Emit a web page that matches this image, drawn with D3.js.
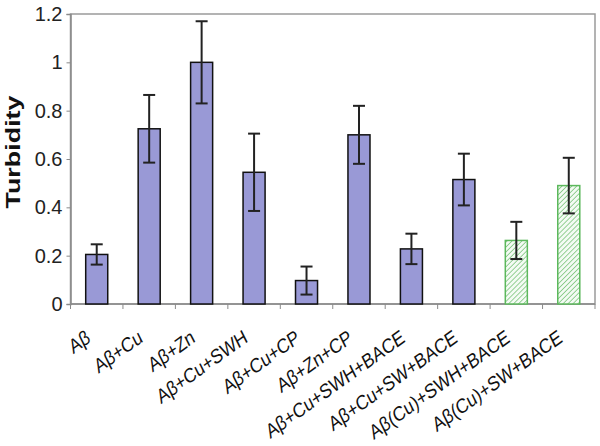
<!DOCTYPE html>
<html>
<head>
<meta charset="utf-8">
<script src="https://cdn.jsdelivr.net/npm/d3@7"></script>
<style>
  body { margin: 0; background: #fff; }
  svg { display: block; font-family: "Liberation Sans", Arial, sans-serif; }
</style>
</head>
<body>
<div id="chart"></div>
<script>
// Data
const categories = ["Aβ", "Aβ+Cu", "Aβ+Zn", "Aβ+Cu+SWH", "Aβ+Cu+CP", "Aβ+Zn+CP",
  "Aβ+Cu+SWH+BACE", "Aβ+Cu+SW+BACE", "Aβ(Cu)+SWH+BACE", "Aβ(Cu)+SW+BACE"];
const turbidity = [0.205, 0.725, 1.0, 0.545, 0.097, 0.70, 0.228, 0.515, 0.263, 0.49];
const errors = [0.042, 0.14, 0.17, 0.16, 0.058, 0.12, 0.063, 0.107, 0.077, 0.115];
const hatched = [false, false, false, false, false, false, false, false, true, true];
const yTicks = [0, 0.2, 0.4, 0.6, 0.8, 1, 1.2];

const W = 600, H = 446;
const plot = { left: 70.5, right: 595, top: 14, bottom: 304 };

const svg = d3.select("#chart")
  .append("svg")
  .attr("width", W)
  .attr("height", H);

// Hatch pattern for the green bars
const pat = svg.append("defs")
  .append("pattern")
  .attr("id", "hatch")
  .attr("patternUnits", "userSpaceOnUse")
  .attr("width", 3.5)
  .attr("height", 3.5)
  .attr("patternTransform", "rotate(45)");
pat.append("rect").attr("width", 3.5).attr("height", 3.5).attr("fill", "#f4fbf4");
pat.append("line")
  .attr("x1", 0).attr("y1", 0).attr("x2", 0).attr("y2", 3.5)
  .attr("stroke", "#7fc67f").attr("stroke-width", 1.6);

// Scales
const x = d3.scaleBand()
  .domain(categories)
  .range([plot.left, plot.right])
  .paddingInner(0.58)
  .paddingOuter(0.29);

const y = d3.scaleLinear()
  .domain([0, 1.2])
  .range([plot.bottom, plot.top]);

// Plot frame
svg.append("rect")
  .attr("x", plot.left).attr("y", y(1.2))
  .attr("width", plot.right - plot.left).attr("height", y(0) - y(1.2))
  .attr("fill", "none")
  .attr("stroke", "#9a9a9a")
  .attr("stroke-width", 1.5);

// Y axis
const yAxis = svg.append("g")
  .attr("transform", `translate(${plot.left},0)`)
  .call(d3.axisLeft(y).tickValues(yTicks).tickSize(4).tickPadding(4).tickFormat(d => String(d)));
yAxis.select(".domain").attr("stroke", "#8a8a8a").attr("stroke-width", 1.5);
yAxis.selectAll(".tick line").attr("stroke", "#8a8a8a");
yAxis.selectAll(".tick text")
  .attr("font-size", 20)
  .attr("fill", "#222")
  .attr("font-family", "Liberation Sans, Arial, sans-serif");

// X axis: ticks on the band boundaries
const step = x.step();
const x0 = x.range()[0];
svg.append("line")
  .attr("x1", plot.left).attr("x2", plot.right)
  .attr("y1", plot.bottom).attr("y2", plot.bottom)
  .attr("stroke", "#8a8a8a").attr("stroke-width", 1.5);
svg.selectAll(".xtick")
  .data(d3.range(categories.length + 1))
  .enter()
  .append("line")
  .attr("class", "xtick")
  .attr("x1", i => x0 + i * step).attr("x2", i => x0 + i * step)
  .attr("y1", plot.bottom).attr("y2", plot.bottom + 5)
  .attr("stroke", "#8a8a8a");

// Category labels, rotated (the source picture is a bit stretched vertically)
svg.selectAll(".xlabel")
  .data(categories)
  .enter()
  .append("text")
  .attr("class", "xlabel")
  .attr("transform", d => `translate(${x(d) + x.bandwidth() / 2 - 12},${plot.bottom + 24}) scale(1,1.2) rotate(-31)`)
  .attr("text-anchor", "end")
  .attr("dy", "0.75em")
  .attr("font-size", 17)
  .attr("fill", "#111")
  .text(d => d);

// Bars
svg.selectAll(".bar")
  .data(categories)
  .enter()
  .append("rect")
  .attr("class", "bar")
  .attr("x", d => x(d))
  .attr("width", x.bandwidth())
  .attr("y", (d, i) => y(turbidity[i]))
  .attr("height", (d, i) => y(0) - y(turbidity[i]))
  .attr("fill", (d, i) => hatched[i] ? "url(#hatch)" : "#9999d6")
  .attr("stroke", (d, i) => hatched[i] ? "#5cb85c" : "#111")
  .attr("stroke-width", 1.5);

// Error bars
const err = svg.selectAll(".err")
  .data(categories)
  .enter()
  .append("g")
  .attr("class", "err")
  .attr("stroke", "#222")
  .attr("stroke-width", 2);
err.append("line")
  .attr("x1", d => x(d) + x.bandwidth() / 2)
  .attr("x2", d => x(d) + x.bandwidth() / 2)
  .attr("y1", (d, i) => y(turbidity[i] + errors[i]))
  .attr("y2", (d, i) => y(turbidity[i] - errors[i]));
[1, -1].forEach(s => {
  err.append("line")
    .attr("x1", d => x(d) + x.bandwidth() / 2 - 6)
    .attr("x2", d => x(d) + x.bandwidth() / 2 + 6)
    .attr("y1", (d, i) => y(turbidity[i] + s * errors[i]))
    .attr("y2", (d, i) => y(turbidity[i] + s * errors[i]));
});

// Y axis title
svg.append("text")
  .attr("transform", "translate(13,152) rotate(-90)")
  .attr("text-anchor", "middle")
  .attr("dy", "0.35em")
  .attr("font-size", 20)
  .attr("font-weight", "bold")
  .attr("fill", "#111")
  .attr("textLength", 113)
  .attr("lengthAdjust", "spacingAndGlyphs")
  .text("Turbidity");
</script>
</body>
</html>
